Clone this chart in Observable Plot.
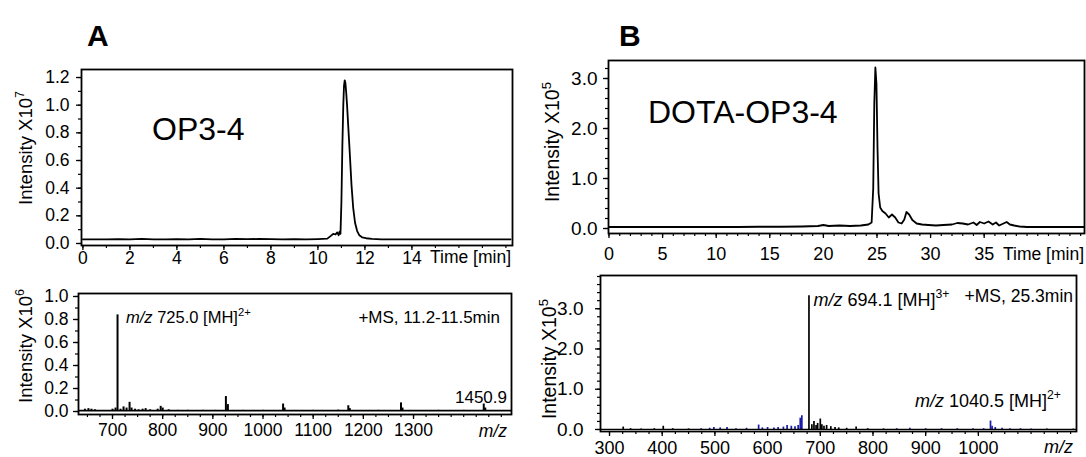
<!DOCTYPE html>
<html><head><meta charset="utf-8">
<script src="https://cdn.jsdelivr.net/npm/d3@7"></script>
<script src="https://cdn.jsdelivr.net/npm/@observablehq/plot@0.6"></script>
<style>
body{margin:0;background:#fff;}
#wrap{position:relative;width:1086px;height:457px;background:#fff;}
#wrap svg{position:absolute;left:0;top:0;overflow:visible;}
</style></head><body><div id="wrap"></div>
<script>
const FONT = "'Liberation Sans', Arial, Helvetica, sans-serif";

// ---- Panel A, chromatogram (time [min], intensity x1e7)
const timeA = [0,0.5,1,1.5,2,2.5,3,3.5,4,4.5,5,5.5,6,6.5,7,7.5,8,8.5,9,9.5,10,10.4,10.55,10.65,10.75,10.82,10.88,10.92,10.96,11.0,11.04,11.08,11.11,11.14,11.17,11.2,11.24,11.3,11.36,11.43,11.5,11.58,11.67,11.76,11.88,12.05,12.3,12.7,13,14,15,16,17,18.2];
const intA  = [0.03,0.03,0.03,0.032,0.03,0.034,0.03,0.03,0.032,0.03,0.033,0.03,0.03,0.034,0.031,0.033,0.031,0.03,0.031,0.03,0.032,0.035,0.055,0.07,0.065,0.08,0.06,0.085,0.07,0.3,0.7,1.0,1.14,1.18,1.16,1.1,1.0,0.82,0.64,0.42,0.26,0.15,0.09,0.06,0.045,0.038,0.033,0.03,0.03,0.03,0.03,0.03,0.03,0.03];

// ---- Panel A, mass spectrum (m/z, intensity x1e6)
const mzA  = [645,652,658,665,700,706,710,716,722,728,734,738,745,752,760,766,775,790,796,800,812,830,850,880,905,926,930,960,1000,1040,1043,1100,1150,1170,1173,1230,1275,1278,1350,1400,1440,1443];
const msA  = [0.02,0.025,0.02,0.015,0.02,0.03,0.84,0.02,0.04,0.03,0.08,0.03,0.02,0.015,0.02,0.025,0.015,0.02,0.045,0.03,0.015,0.01,0.01,0.01,0.01,0.13,0.06,0.01,0.01,0.065,0.03,0.01,0.012,0.05,0.025,0.01,0.075,0.03,0.01,0.01,0.065,0.03];

// ---- Panel B, chromatogram (time [min], intensity x1e5)
const timeB = [0,2,4,6,8,10,12,14,16,18,19.5,20,20.5,21.5,22.5,23.5,24.2,24.5,24.65,24.75,24.85,24.95,25.05,25.15,25.3,25.5,25.8,26.1,26.4,26.7,27.0,27.3,27.55,27.75,28.0,28.3,28.7,29.2,29.8,30.5,31.2,32,32.5,33,33.5,34,34.3,34.6,35,35.4,35.8,36.1,36.4,36.8,37.1,37.4,37.8,38.3,39,40,42,44.3];
const intB  = [0.03,0.03,0.03,0.03,0.03,0.03,0.03,0.035,0.035,0.04,0.05,0.07,0.05,0.06,0.05,0.06,0.08,0.12,0.8,2.5,3.22,2.9,1.6,0.7,0.42,0.35,0.3,0.22,0.28,0.22,0.12,0.1,0.18,0.33,0.28,0.17,0.1,0.08,0.07,0.06,0.07,0.08,0.11,0.1,0.08,0.12,0.07,0.13,0.1,0.14,0.08,0.12,0.06,0.1,0.13,0.08,0.06,0.04,0.03,0.03,0.03,0.03];

// ---- Panel B, mass spectrum (m/z, intensity x1e5): black and blue traces
const mzBk = [326,340,360,385,402,420,450,678.5,684,688,692,695,700,703,707,712,720,728,735,750,768,790,820,1130,1180];
const msBk = [0.06,0.02,0.015,0.02,0.08,0.02,0.015,3.32,0.12,0.2,0.1,0.15,0.26,0.12,0.08,0.1,0.07,0.05,0.04,0.03,0.06,0.02,0.015,0.01,0.01];
const mzBb = [474,490,498,510,523,540,560,583,590,600,612,620,630,637,645,652,658,662,665,845,870,900,930,960,990,1010,1023,1026,1032,1045,1060,1080,1100];
const msBb = [0.02,0.03,0.05,0.04,0.05,0.02,0.03,0.11,0.04,0.05,0.04,0.05,0.06,0.1,0.08,0.07,0.1,0.28,0.34,0.02,0.03,0.02,0.02,0.02,0.02,0.02,0.21,0.08,0.05,0.03,0.02,0.02,0.01];

// tick values
const ticksA1x = [0,2,4,6,8,10,12,14];
const ticksA1y = [0,0.2,0.4,0.6,0.8,1.0,1.2];
const ticksA2x = [700,800,900,1000,1100,1200,1300];
const ticksA2y = [0,0.2,0.4,0.6,0.8,1.0];
const ticksB1x = [0,5,10,15,20,25,30,35];
const ticksB1y = [0,1,2,3];
const ticksB2x = [300,400,500,600,700,800,900,1000];
const ticksB2y = [0,1,2,3];

const wrap = document.getElementById("wrap");
const W = 1086, H = 457;

function range(a, b, s) { const r = []; for (let v = a; v <= b + 1e-9; v += s) r.push(+v.toFixed(4)); return r; }

function panel(p) {
  const chart = Plot.plot({
    width: W, height: H,
    marginLeft: p.L, marginRight: W - p.R, marginTop: p.T, marginBottom: H - p.B,
    x: {domain: p.xd}, y: {domain: p.yd},
    style: {background: "transparent", fontFamily: FONT, color: "black", overflow: "visible"},
    marks: [
      ...p.marks,
      Plot.frame({stroke: "black", strokeWidth: 1.8}),
      Plot.axisX({ticks: p.xMinor, tickSize: 3, tickFormat: () => "", label: null, strokeWidth: 1.2}),
      Plot.axisX({ticks: p.xMajor, tickSize: 5, tickPadding: p.xPad, tickFormat: d => String(d), label: null, fontSize: p.xFs, strokeWidth: 1.3}),
      Plot.axisY({ticks: p.yMinor, tickSize: 3, tickFormat: () => "", label: null, strokeWidth: 1.2}),
      Plot.axisY({ticks: p.yMajor, tickSize: 5, tickPadding: p.yPad, tickFormat: d => d.toFixed(1), label: null, fontSize: p.yFs, strokeWidth: 1.3})
    ]
  });
  wrap.appendChild(chart);
  const sx = v => p.L + (v - p.xd[0]) / (p.xd[1] - p.xd[0]) * (p.R - p.L);
  const sy = v => p.B - (v - p.yd[0]) / (p.yd[1] - p.yd[0]) * (p.B - p.T);
  return {sx, sy};
}

const A1 = {L: 81, R: 512, T: 69, B: 245, xd: [-0.06, 18.28], yd: [-0.0145, 1.258]};
const A2 = {L: 78, R: 511, T: 293, B: 414, xd: [632.2, 1495.3], yd: [-0.026, 1.026]};
const B1 = {L: 608, R: 1084, T: 60, B: 233, xd: [-0.047, 44.36], yd: [-0.1, 3.36]};
const B2 = {L: 600, R: 1076, T: 275, B: 431, xd: [282.9, 1186.2], yd: [-0.05, 3.825]};

const dA1 = timeA.map((t, i) => ({t, v: intA[i]}));
const dA2 = mzA.map((m, i) => ({m, v: msA[i]}));
const dB1 = timeB.map((t, i) => ({t, v: intB[i]}));
const dBk = mzBk.map((m, i) => ({m, v: msBk[i]}));
const dBb = mzBb.map((m, i) => ({m, v: msBb[i]}));

const sA1 = panel({...A1,
  marks: [Plot.line(dA1, {x: "t", y: "v", stroke: "black", strokeWidth: 1.8})],
  xMajor: ticksA1x, xMinor: range(0, 18, 1), xPad: 1, xFs: 17.5,
  yMajor: ticksA1y, yMinor: range(0, 1.2, 0.1), yPad: 7, yFs: 17.5});
const sA2 = panel({...A2,
  marks: [Plot.ruleX(dA2, {x: "m", y1: 0, y2: "v", stroke: "black", strokeWidth: 2}),
          Plot.ruleY([0.008], {stroke: "black", strokeWidth: 1.6})],
  xMajor: ticksA2x, xMinor: range(650, 1475, 25), xPad: 4, xFs: 17.5,
  yMajor: ticksA2y, yMinor: range(0, 1.0, 0.1), yPad: 5, yFs: 17.5});
const sB1 = panel({...B1,
  marks: [Plot.line(dB1, {x: "t", y: "v", stroke: "black", strokeWidth: 1.8})],
  xMajor: ticksB1x, xMinor: range(0, 44, 1), xPad: 9, xFs: 18,
  yMajor: ticksB1y, yMinor: range(0, 3.2, 0.2), yPad: 6, yFs: 19});
const sB2 = panel({...B2,
  marks: [Plot.ruleX(dBb, {x: "m", y1: 0, y2: "v", stroke: "#1c1ca8", strokeWidth: 1.7}),
          Plot.ruleX(dBk, {x: "m", y1: 0, y2: "v", stroke: "black", strokeWidth: 1.7}),
          Plot.ruleY([0.005], {stroke: "black", strokeWidth: 1.3})],
  xMajor: ticksB2x, xMinor: range(300, 1175, 25), xPad: 5, xFs: 18,
  yMajor: ticksB2y, yMinor: range(0, 3.8, 0.2), yPad: 12, yFs: 19});

// ---- text overlay (titles, axis titles, annotations with italics/superscripts)
const ov = d3.create("svg").attr("width", W).attr("height", H)
  .attr("font-family", FONT).style("overflow", "visible");
wrap.appendChild(ov.node());

function rich(x, y, parts, o = {}) {
  const fs = o.size || 17;
  const t = ov.append("text").attr("x", x).attr("y", y).attr("font-size", fs)
    .attr("fill", "black").attr("text-anchor", o.anchor || "start").style("white-space", "pre");
  if (o.weight) t.attr("font-weight", o.weight);
  if (o.rotate) t.attr("transform", `rotate(-90 ${x} ${y})`);
  let shift = 0;
  for (const [s, k] of parts) {
    const ts = t.append("tspan").text(s);
    if (k === "i") ts.attr("font-style", "italic");
    if (k === "sup") { ts.attr("font-size", fs * 0.68).attr("dy", -fs * 0.42); shift = fs * 0.42; }
    else if (shift) { ts.attr("dy", shift); shift = 0; }
  }
  return t;
}

rich(87, 46, [["A"]], {size: 30, weight: "bold"});
rich(619, 46, [["B"]], {size: 30, weight: "bold"});
rich(152, 139.5, [["OP3-4"]], {size: 32});
rich(648, 123, [["DOTA-OP3-4"]], {size: 32});

rich(32, 148, [["Intensity X10"], ["7", "sup"]], {size: 18.5, anchor: "middle", rotate: true});
rich(32, 346, [["Intensity X10"], ["6", "sup"]], {size: 18.5, anchor: "middle", rotate: true});
rich(559, 142, [["Intensity X10"], ["5", "sup"]], {size: 19.5, anchor: "middle", rotate: true});
rich(556, 359, [["Intensity X10"], ["5", "sup"]], {size: 19.5, anchor: "middle", rotate: true});

rich(A1.R - 1, 263, [["Time [min]"]], {size: 17.5, anchor: "end"});
rich(B1.R, 260, [["Time [min]"]], {size: 17.5, anchor: "end"});
rich(A2.R - 4, 437, [["m/z", "i"]], {size: 17.5, anchor: "end"});
rich(B2.R - 3, 453, [["m/z", "i"]], {size: 18, anchor: "end"});

// peak annotations, anchored at the peaks through the panel scales
rich(sA2.sx(710) + 9, 323, [["m/z", "i"], [" 725.0 [MH]"], ["2+", "sup"]], {size: 16.5});
rich(A2.R - 11, 323, [["+MS, 11.2-11.5min"]], {size: 17, anchor: "end"});
rich(A2.R - 4, 403, [["1450.9"]], {size: 17, anchor: "end"});
rich(sB2.sx(678.5) + 5, 306, [["m/z", "i"], [" 694.1 [MH]"], ["3+", "sup"]], {size: 18});
rich(B2.R - 3, 302, [["+MS, 25.3min"]], {size: 17.5, anchor: "end"});
rich(915, 407, [["m/z", "i"], [" 1040.5 [MH]"], ["2+", "sup"]], {size: 18});
</script>
</body></html>
